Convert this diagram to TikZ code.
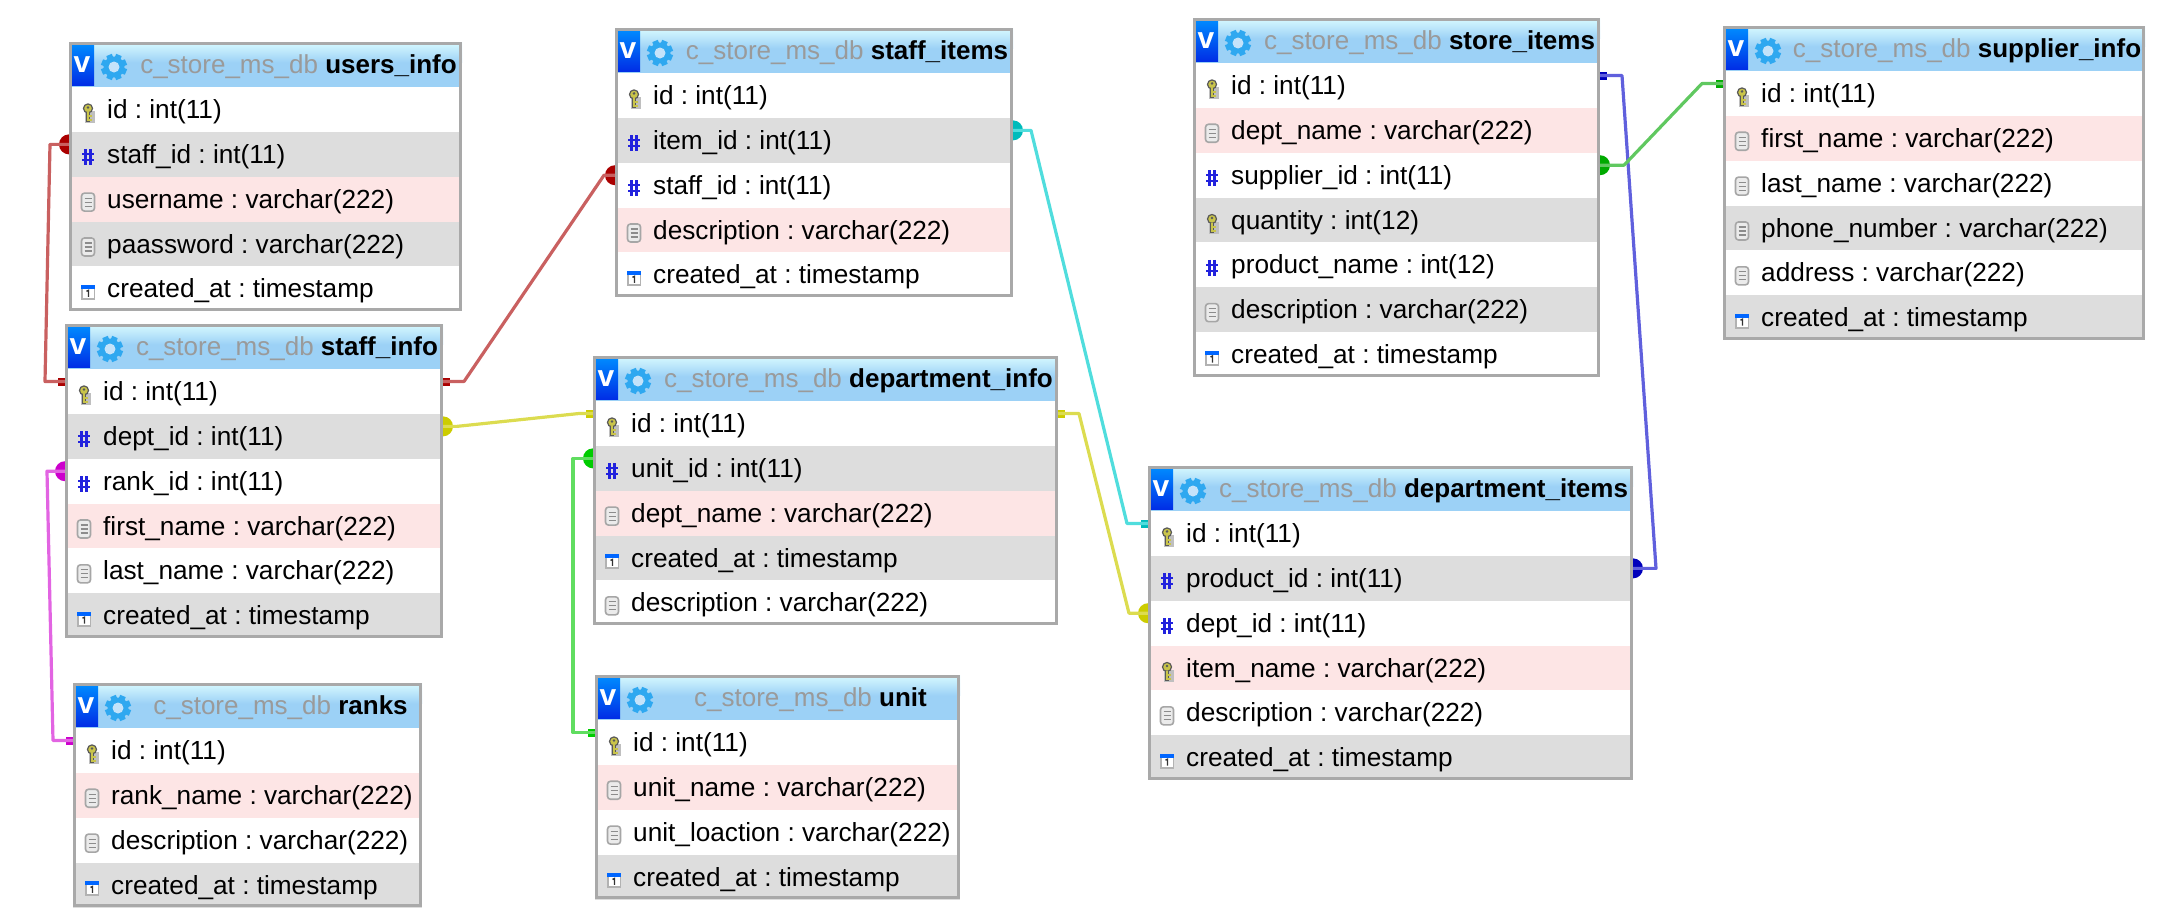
\documentclass[tikz,border=0pt]{standalone}
\usepackage{fontspec}
\setmainfont{Liberation Sans}
\usetikzlibrary{backgrounds}
\frenchspacing
\definecolor{rowgray}{HTML}{DDDDDD}
\definecolor{rowpink}{HTML}{FDE5E5}
\definecolor{framegray}{HTML}{A9A9A9}
\definecolor{headblue}{HTML}{9CD1F6}
\definecolor{headlight}{HTML}{D8FAFF}
\definecolor{titlegray}{HTML}{9A9A9A}
\definecolor{gearblue}{HTML}{2FA8F0}
\definecolor{hashblue}{HTML}{2222DD}
\definecolor{keygold}{HTML}{C9C44A}
\definecolor{linkred}{HTML}{C96060}
\definecolor{markred}{HTML}{AA0000}
\definecolor{linkyellow}{HTML}{DCDC50}
\definecolor{markyellow}{HTML}{CCCC00}
\definecolor{linkmagenta}{HTML}{E264E2}
\definecolor{markmagenta}{HTML}{CC00CC}
\definecolor{linklime}{HTML}{60DD60}
\definecolor{marklime}{HTML}{00CC00}
\definecolor{linkcyan}{HTML}{50DDDD}
\definecolor{markcyan}{HTML}{00BBBB}
\definecolor{linkblue}{HTML}{6060DD}
\definecolor{markblue}{HTML}{0000BB}
\definecolor{linkgreen}{HTML}{60C860}
\definecolor{markgreen}{HTML}{00AA00}
\tikzset{
  rowbox/.style={rectangle, inner sep=0pt, outer sep=0pt, anchor=north west},
  rowtext/.style={anchor=base west, inner sep=0pt, font=\fontsize{26.2}{30}\selectfont},
  titletext/.style={anchor=base, inner sep=0pt, font=\fontsize{26}{30}\selectfont},
  vtext/.style={inner sep=0pt, text=white, font=\fontsize{30}{30}\selectfont\bfseries},
  link/.style={line width=3.2pt, line join=round},
  onemark/.style={rectangle, inner sep=0pt, minimum width=14pt, minimum height=8pt},
  manymark/.style={circle, inner sep=0pt, minimum size=20pt},
}
% small icons of the rows, drawn round a point
\newcommand{\keyicon}[2]{\begin{scope}[shift={(#1,#2)}]
  \fill[black!25] (-3,-1) rectangle (7,11);
  \draw[black!65, fill=keygold, line width=1.2pt] (0,-4) circle (4.5);
  \fill[black!65] (0,-5) circle (1.4);
  \fill[black!65] (-2.2,0) rectangle (2.2,10);
  \fill[keygold] (-0.8,0) rectangle (0.8,9);
  \fill[keygold] (0.8,3) rectangle (3.6,5);
  \fill[keygold] (0.8,7) rectangle (3.6,9);
\end{scope}}
\newcommand{\hashicon}[2]{\begin{scope}[shift={(#1,#2)}, hashblue, line width=2.2pt]
  \draw (-2.5,-8) -- (-2.5,8) (2.5,-8) -- (2.5,8) (-6,-3) -- (6,-3) (-6,3) -- (6,3);
\end{scope}}
\newcommand{\colicon}[2]{\begin{scope}[shift={(#1,#2)}]
  \draw[black!35, fill=black!8, rounded corners=3pt, line width=1.6pt] (-6.5,-9) rectangle (6.5,9);
  \draw[black!45, line width=1.2pt] (-3.5,-4) -- (3.5,-4) (-3.5,0) -- (3.5,0) (-3.5,4) -- (3.5,4);
\end{scope}}
\newcommand{\calicon}[2]{\begin{scope}[shift={(#1,#2)}]
  \fill[black!30] (-7,-7) rectangle (7,8);
  \fill[white] (-5.5,-3) rectangle (5.5,6.5);
  \fill[blue!60!cyan] (-7,-7) rectangle (7,-3);
  \draw[black!80, line width=1.4pt] (-1.5,-0.5) -- (0.5,-1.5) -- (0.5,5);
\end{scope}}
\newcommand{\gearicon}[2]{\begin{scope}[shift={(#1,#2)}]
  \fill[gearblue] (0,0) circle (10.5);
  \foreach \a in {0,45,...,315}
    \fill[gearblue, rotate=\a+22.5] (-3,-13) rectangle (3,0);
  \fill[headblue!60!white] (0,0) circle (5.5);
\end{scope}}
% #1 name, #2 left, #3 top, #4 right, #5 table title, #6 rows
\newcommand{\dbtable}[6]{
  \pgfmathsetmacro{\tablewd}{#4-#2}
  \node[rowbox, fill=headblue, minimum width=\tablewd pt, minimum height=45pt] (#1head) at (#2,#3) {};
  \shade[top color=headlight, bottom color=headblue] (#1head.north west) rectangle ([yshift=2pt]#1head.east);
  \shade[top color=blue!45!cyan, bottom color=blue!80!cyan!90!black] (#2+2,#3+1) rectangle (#2+25,#3+43);
  \node[vtext] (#1v) at (#2+13,#3+23) {v};
  \gearicon{#2+45}{#3+25}
  \node[titletext] (#1title) at ({(#2+66+#4)/2},#3+31)
    {{\color{titlegray}c\_store\_ms\_db} \textbf{#5}};
  \foreach \kind/\tone/\txt [count=\i] in {#6} {
    \pgfmathsetmacro{\rowy}{#3+45+(\i-1)*44.85}
    \node[rowbox, fill=\tone, minimum width=\tablewd pt, minimum height=45pt] (#1\i) at (#2,\rowy) {};
    \pgfmathsetmacro{\iconx}{#2+19}
    \pgfmathsetmacro{\icony}{\rowy+22.4}
    \csname\kind icon\endcsname{\iconx}{\icony+3}
    \node[rowtext] (#1\i text) at (#2+38,\rowy+31.5) {\txt};
    \xdef\lasty{\rowy}
  }
  \pgfmathsetmacro{\tablebot}{\lasty+44.85}
  \draw[framegray, line width=3pt] (#2+1.5,#3+1.5) rectangle (#4-1.5,\tablebot-1.5);
}

\begin{document}
\begin{tikzpicture}[x=1pt, y=-1pt]
\useasboundingbox (0,0) rectangle (2165,922);

\dbtable{users}{69}{42}{462}{users\_info}{key/white/id : int(11), hash/rowgray/staff\_id : int(11), col/rowpink/username : varchar(222), col/rowgray/paassword : varchar(222), cal/white/created\_at : timestamp}
\dbtable{staff}{65}{324}{443}{staff\_info}{key/white/id : int(11), hash/rowgray/dept\_id : int(11), hash/white/rank\_id : int(11), col/rowpink/first\_name : varchar(222), col/white/last\_name : varchar(222), cal/rowgray/created\_at : timestamp}
\dbtable{ranks}{73}{683}{422}{ranks}{key/white/id : int(11), col/rowpink/rank\_name : varchar(222), col/white/description : varchar(222), cal/rowgray/created\_at : timestamp}
\dbtable{staffitems}{615}{28}{1013}{staff\_items}{key/white/id : int(11), hash/rowgray/item\_id : int(11), hash/white/staff\_id : int(11), col/rowpink/description : varchar(222), cal/white/created\_at : timestamp}
\dbtable{deptinfo}{593}{356}{1058}{department\_info}{key/white/id : int(11), hash/rowgray/unit\_id : int(11), col/rowpink/dept\_name : varchar(222), cal/rowgray/created\_at : timestamp, col/white/description : varchar(222)}
\dbtable{unit}{595}{675}{960}{unit}{key/white/id : int(11), col/rowpink/unit\_name : varchar(222), col/white/unit\_loaction : varchar(222), cal/rowgray/created\_at : timestamp}
\dbtable{storeitems}{1193}{18}{1600}{store\_items}{key/white/id : int(11), col/rowpink/dept\_name : varchar(222), hash/white/supplier\_id : int(11), key/rowgray/quantity : int(12), hash/white/product\_name : int(12), col/rowgray/description : varchar(222), cal/white/created\_at : timestamp}
\dbtable{deptitems}{1148}{466}{1633}{department\_items}{key/white/id : int(11), hash/rowgray/product\_id : int(11), hash/white/dept\_id : int(11), key/rowpink/item\_name : varchar(222), col/white/description : varchar(222), cal/rowgray/created\_at : timestamp}
\dbtable{supplier}{1723}{26}{2145}{supplier\_info}{key/white/id : int(11), col/rowpink/first\_name : varchar(222), col/white/last\_name : varchar(222), col/rowgray/phone\_number : varchar(222), col/white/address : varchar(222), cal/rowgray/created\_at : timestamp}

\begin{scope}[on background layer]
% red
\node[manymark, fill=markred] at ([yshift=10pt]users2.west) {};
\node[onemark, fill=markred] at ([yshift=10pt]staff1.west) {};
\draw[link, linkred] ([yshift=10pt]staff1.west) -- ++(-20,0) -- ([xshift=-19pt,yshift=10pt]users2.west) -- ([yshift=10pt]users2.west);
\node[onemark, fill=markred] at ([yshift=10pt]staff1.east) {};
\node[manymark, fill=markred] at ([yshift=10pt]staffitems3.west) {};
\draw[link, linkred] ([yshift=10pt]staff1.east) -- ++(21,0) -- ([xshift=-11pt,yshift=10pt]staffitems3.west) -- ([yshift=10pt]staffitems3.west);
% yellow
\node[manymark, fill=markyellow] at ([yshift=10pt]staff2.east) {};
\node[onemark, fill=markyellow] at ([yshift=10pt]deptinfo1.west) {};
\draw[link, linkyellow] ([yshift=10pt]staff2.east) -- ++(14,0) -- ([xshift=-14pt,yshift=10pt]deptinfo1.west) -- ([yshift=10pt]deptinfo1.west);
\node[onemark, fill=markyellow] at ([yshift=10pt]deptinfo1.east) {};
\node[manymark, fill=markyellow] at ([yshift=10pt]deptitems3.west) {};
\draw[link, linkyellow] ([yshift=10pt]deptinfo1.east) -- ++(21,0) -- ([xshift=-19pt,yshift=10pt]deptitems3.west) -- ([yshift=10pt]deptitems3.west);
% magenta
\node[manymark, fill=markmagenta] at ([yshift=10pt]staff3.west) {};
\node[onemark, fill=markmagenta] at ([yshift=10pt]ranks1.west) {};
\draw[link, linkmagenta] ([yshift=10pt]staff3.west) -- ++(-18,0) -- ([xshift=-20pt,yshift=10pt]ranks1.west) -- ([yshift=10pt]ranks1.west);
% light green
\node[manymark, fill=marklime] at ([yshift=10pt]deptinfo2.west) {};
\node[onemark, fill=marklime] at ([yshift=10pt]unit1.west) {};
\draw[link, linklime] ([yshift=10pt]deptinfo2.west) -- ++(-20,0) -- ([xshift=-22pt,yshift=10pt]unit1.west) -- ([yshift=10pt]unit1.west);
% cyan
\node[manymark, fill=markcyan] at ([yshift=10pt]staffitems2.east) {};
\node[onemark, fill=markcyan] at ([yshift=10pt]deptitems1.west) {};
\draw[link, linkcyan] ([yshift=10pt]staffitems2.east) -- ++(18,0) -- ([xshift=-21pt,yshift=10pt]deptitems1.west) -- ([yshift=10pt]deptitems1.west);
% blue
\node[onemark, fill=markblue] at ([yshift=10pt]storeitems1.east) {};
\node[manymark, fill=markblue] at ([yshift=10pt]deptitems2.east) {};
\draw[link, linkblue] ([yshift=10pt]storeitems1.east) -- ++(22,0) -- ([xshift=23pt,yshift=10pt]deptitems2.east) -- ([yshift=10pt]deptitems2.east);
% dark green
\node[manymark, fill=markgreen] at ([yshift=10pt]storeitems3.east) {};
\node[onemark, fill=markgreen] at ([yshift=10pt]supplier1.west) {};
\draw[link, linkgreen] ([yshift=10pt]storeitems3.east) -- ++(24,0) -- ([xshift=-21pt,yshift=10pt]supplier1.west) -- ([yshift=10pt]supplier1.west);
\end{scope}
\end{tikzpicture}
\end{document}
